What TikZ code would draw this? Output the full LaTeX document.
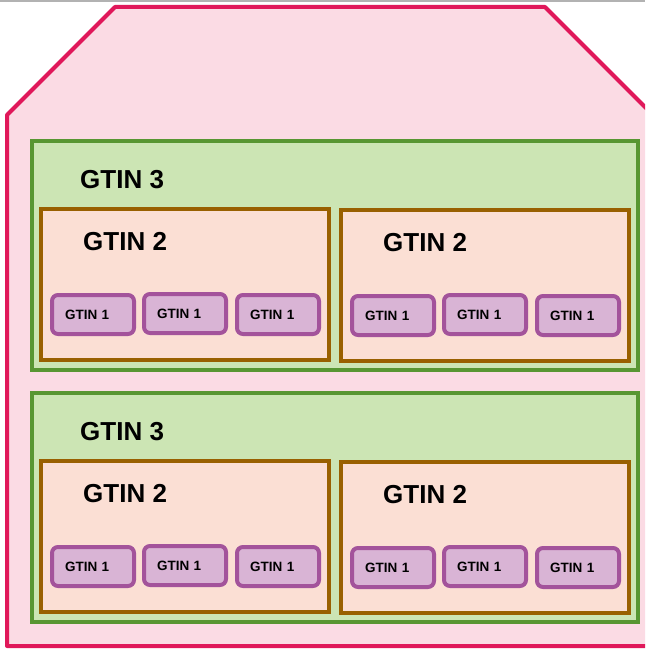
\documentclass[tikz,border=0pt]{standalone}
\usepackage{fontspec}
\setmainfont{Liberation Sans}
\usepackage{tikz}

\definecolor{caseline}{RGB}{224,24,90}
\definecolor{casefill}{RGB}{251,219,228}
\definecolor{layerline}{RGB}{88,150,50}
\definecolor{layerfill}{RGB}{204,229,180}
\definecolor{packline}{RGB}{153,96,0}
\definecolor{packfill}{RGB}{251,223,212}
\definecolor{unitline}{RGB}{163,83,155}
\definecolor{unitfill}{RGB}{217,180,213}

\begin{document}
\begin{tikzpicture}[x=1pt, y=-1pt,
		layer/.style = {draw=layerline, fill=layerfill, line width=4pt, minimum width=606pt, minimum height=229pt, anchor=north west, inner sep=0pt, outer sep=0pt},
		pack/.style = {draw=packline, fill=packfill, line width=3.5pt, minimum width=288pt, minimum height=151pt, anchor=north west, inner sep=0pt, outer sep=0pt},
		unit/.style = {draw=unitline, fill=unitfill, line width=4pt, rounded corners=6pt, text width=56pt, inner xsep=13pt, inner ysep=0pt, minimum height=39pt, anchor=north west, outer sep=0pt, align=left, font=\fontsize{13.5}{14}\selectfont\bfseries},
		lbl/.style = {anchor=west, inner sep=0pt, font=\fontsize{26}{28}\selectfont\bfseries}]
		\clip (0,0) rectangle (645,650);
		\useasboundingbox (0,0) rectangle (645,650);
		\fill[white] (0,0) rectangle (645,650);
		\draw[gray!60, line width=2pt] (0,1) -- (645,1);
		
		% the case
		\draw[draw=caseline, fill=casefill, line width=4pt, line join=round] (115,7) -- (545,7) -- (653,115) -- (653,646) -- (7,646) -- (7,115) -- cycle;
		
		% two layers, two packs each, three units per pack
		\foreach \l/\y in {a/141, b/393} {
			\node[layer] (\l) at (32,\y) {};
			\node[lbl] (\l-t) at ([xshift=48pt, yshift=-39pt]\l.north west) {GTIN 3};
			\foreach \p/\dx/\dy in {1/9/68, 2/309/69} {
				\node[pack] (\l\p) at ([xshift=\dx pt, yshift=-\dy pt]\l.north west) {};
				\node[lbl] (\l\p-t) at ([xshift=42pt, yshift=-33pt]\l\p.north west) {GTIN 2};
				\foreach \u/\ux/\uy in {1/11/86, 2/103/85, 3/196/86} {
					\node[unit] (\l\p\u) at ([xshift=\ux pt, yshift=-\uy pt]\l\p.north west) {GTIN 1};
				}
			}
		}
	\end{tikzpicture}
\end{document}
